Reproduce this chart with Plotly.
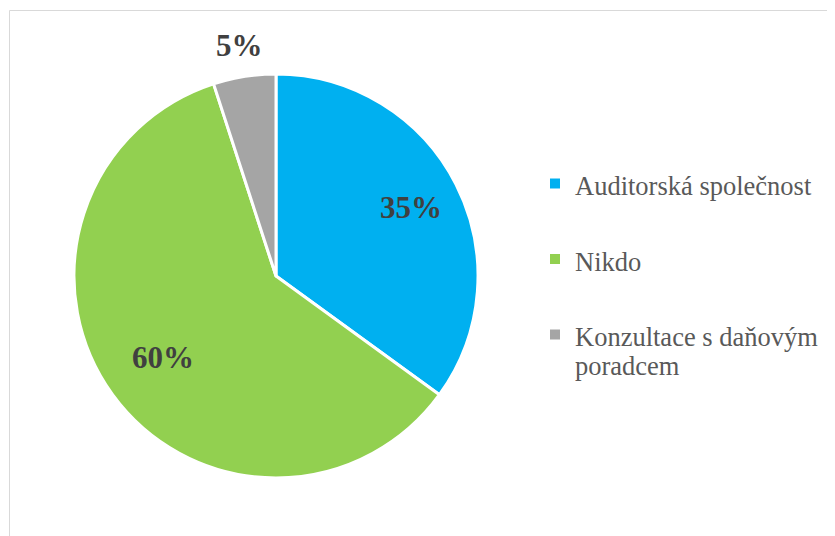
import math
import plotly.graph_objects as go

categories = ["Auditorská společnost", "Nikdo", "Konzultace s daňovým poradcem"]
values = [35, 60, 5]
colors = ["#00B0F0", "#92D050", "#A5A5A5"]
legend_lines = [["Auditorská společnost"], ["Nikdo"], ["Konzultace s daňovým", "poradcem"]]

W, H = 835, 536
OFF = 8  # page body margin offset in the browser
cx, cy, R = 276 - OFF, 276 - OFF, 202
label_r = [0.75, 0.69, 1.155]  # label distance from centre, as a fraction of the radius
SERIF = "'Liberation Serif', 'Times New Roman', Times, serif"
LEG_SIZE = 26.5
LINE = 14.5          # legend base line pitch (px)
ROWS = [6, 4, 6]     # base rows per legend entry (gives the 75 px spacing)


def legend_label(lines, n):
    # visible text on the middle row so the symbol sits beside it
    j = n // 2
    rows = [" "] * n
    for i, t in enumerate(lines):
        rows[j + 2 * i] = f"<span style='font-size:{LEG_SIZE}px'>{t}</span>"
    return "<br>".join(rows)


fig = go.Figure(go.Pie(
    labels=[legend_label(l, n) for l, n in zip(legend_lines, ROWS)],
    values=values,
    sort=False,
    direction="clockwise",
    rotation=0,
    marker=dict(colors=colors, line=dict(color="white", width=3)),
    textinfo="none",
    domain=dict(x=[(cx - R) / W, (cx + R) / W], y=[1 - (cy + R) / H, 1 - (cy - R) / H]),
    hovertext=categories,
    hoverinfo="text+percent",
))

# percentage labels placed on each slice's bisector
total = sum(values)
annotations = []
acc = 0
for v, f in zip(values, label_r):
    mid = (acc + v / 2) / total * 2 * math.pi
    acc += v
    px = cx + f * R * math.sin(mid)
    py = cy - f * R * math.cos(mid)
    annotations.append(dict(
        x=px / W, y=1 - py / H, xref="paper", yref="paper",
        text=f"<b>{round(v / total * 100)}%</b>", showarrow=False,
        font=dict(family=SERIF, size=31, color="#404040"),
        xanchor="center", yanchor="middle",
    ))

fig.update_layout(
    width=W, height=H,
    margin=dict(l=0, r=0, t=0, b=0),
    paper_bgcolor="white",
    plot_bgcolor="white",
    showlegend=True,
    annotations=annotations,
    legend=dict(
        x=(535 - OFF) / W, y=1 - (133.5 - OFF) / H, xanchor="left", yanchor="top",
        font=dict(family=SERIF, size=LINE / 1.3, color="#595959"),
        valign="middle",
        bgcolor="rgba(0,0,0,0)",
        itemsizing="constant",
    ),
    shapes=[dict(type="rect", xref="paper", yref="paper",
                 x0=(9.5 - OFF) / W, x1=1.2, y0=-0.2, y1=1 - (10.5 - OFF) / H,
                 line=dict(color="#D9D9D9", width=1), layer="below")],
)

fig.write_html("out.html")
